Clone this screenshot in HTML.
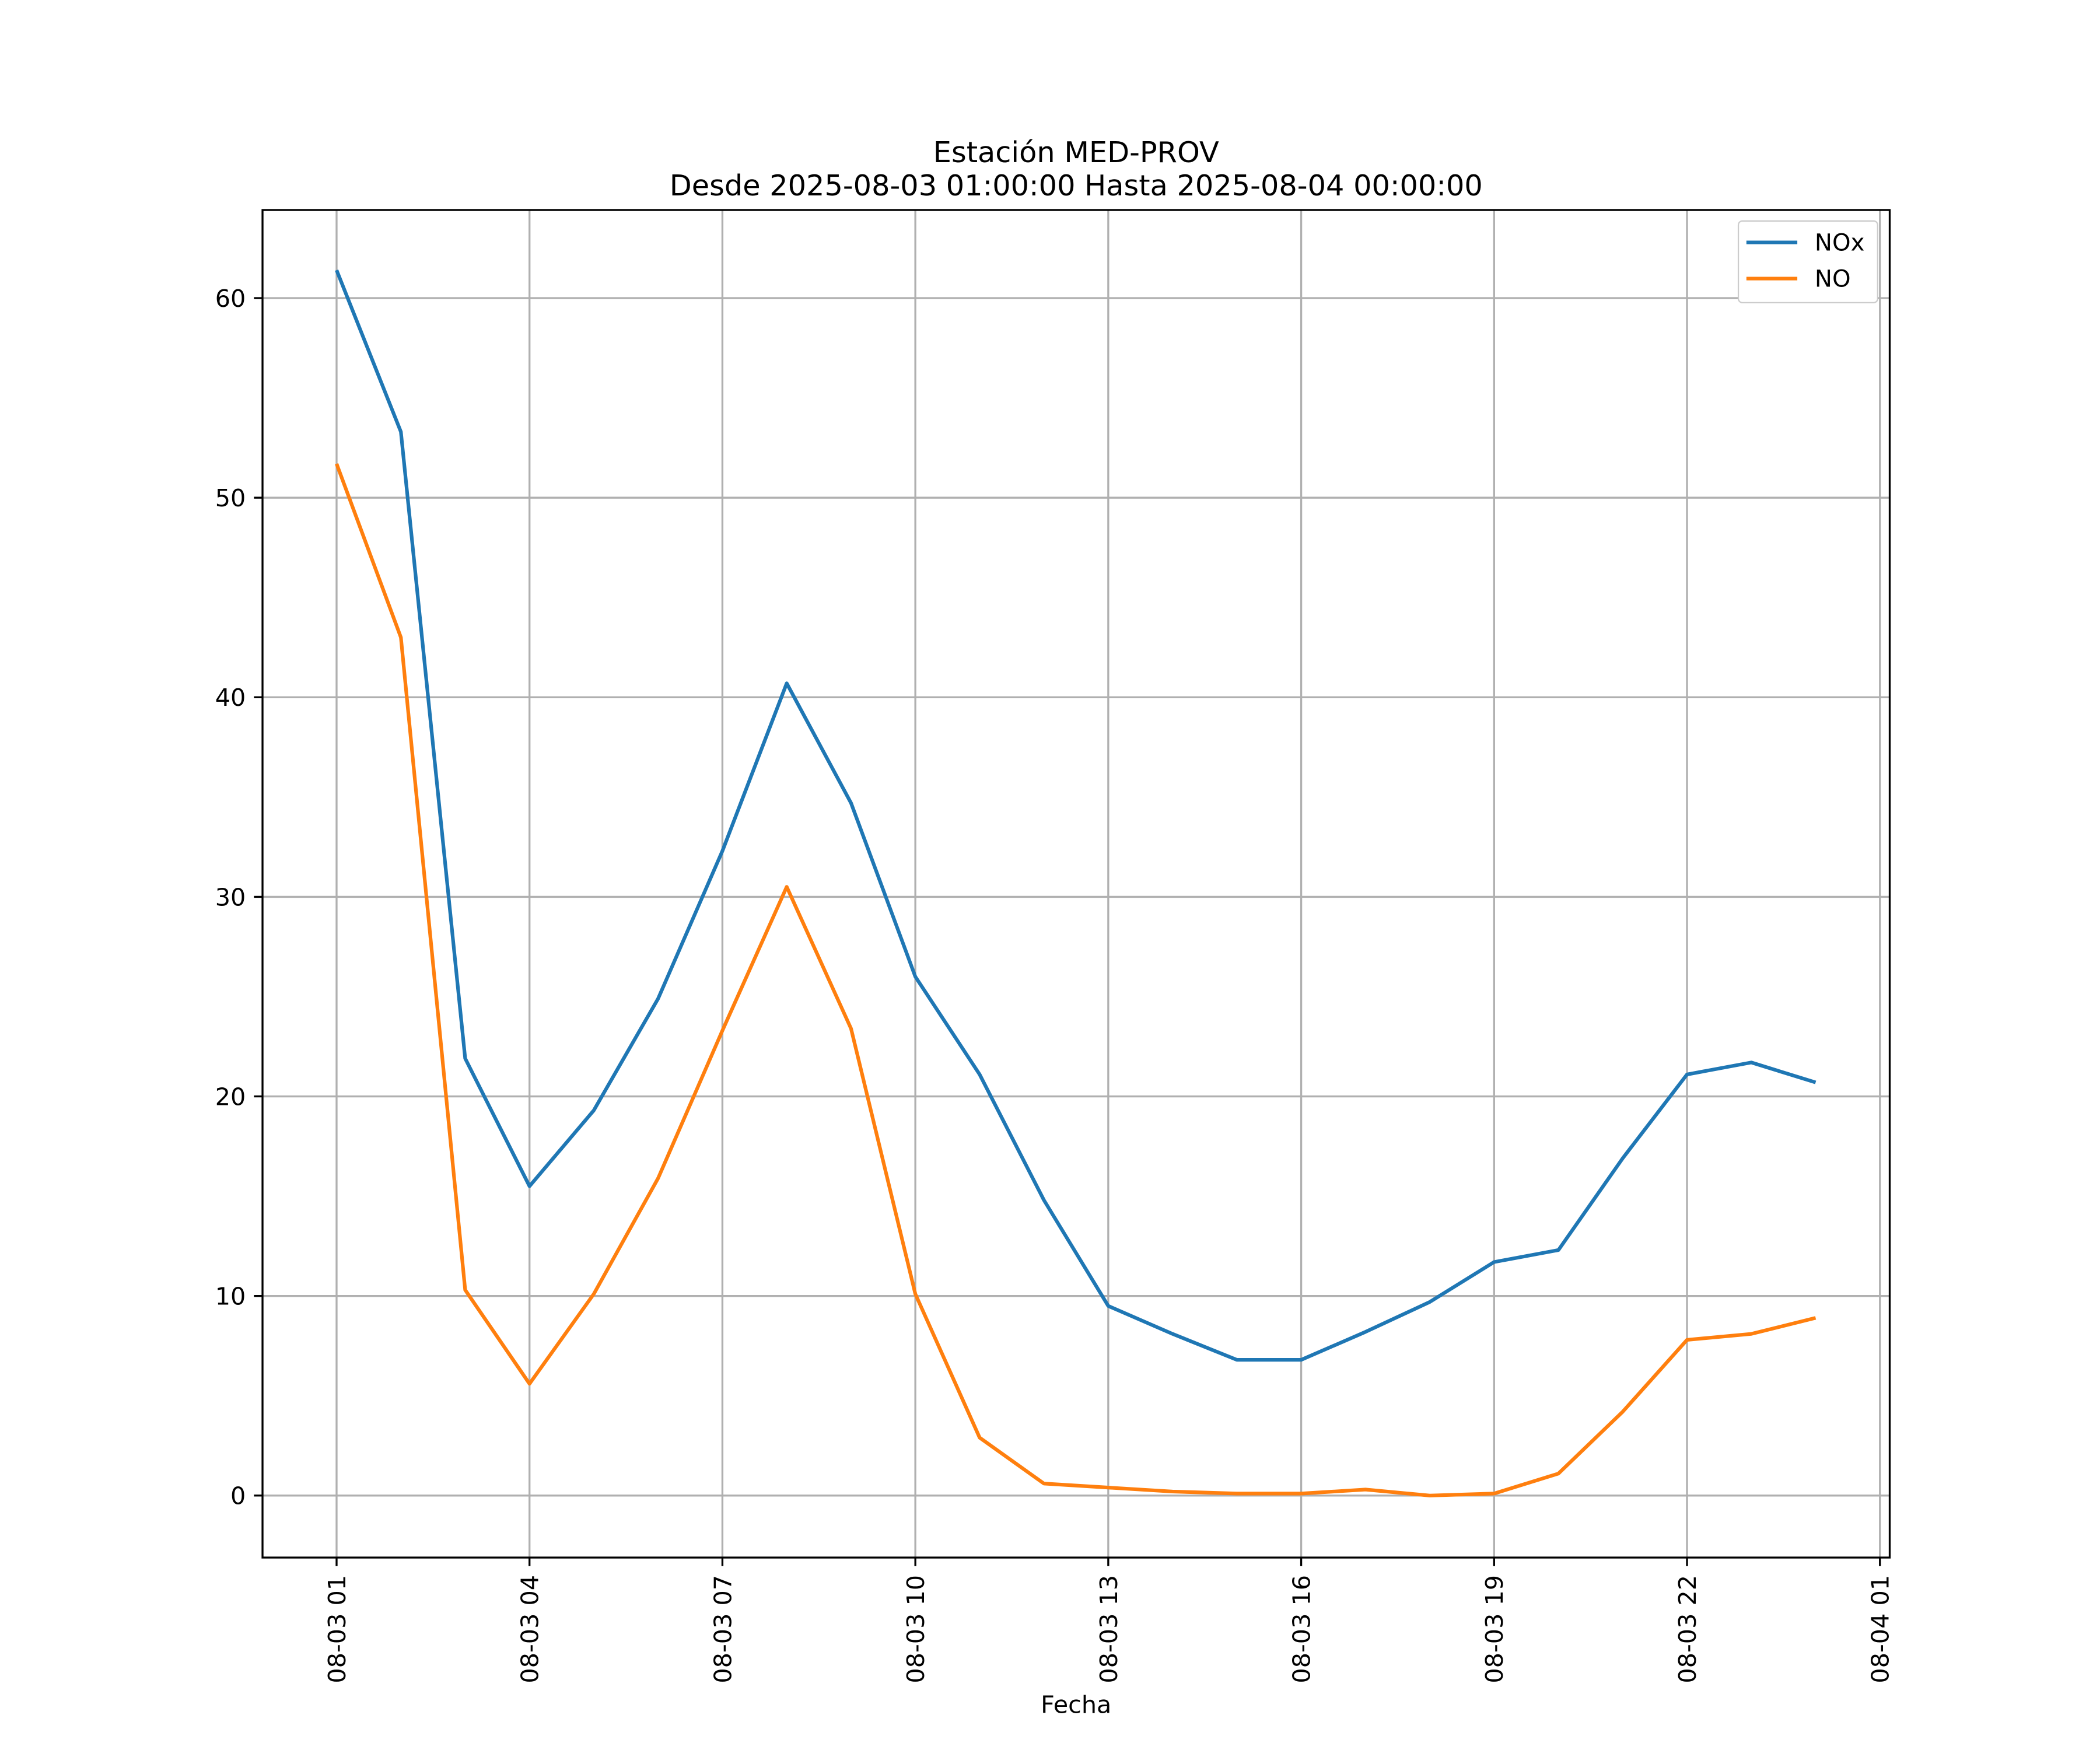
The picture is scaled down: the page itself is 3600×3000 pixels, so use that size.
<!DOCTYPE html>
<html><head><meta charset="utf-8"><style>
html,body{margin:0;padding:0;background:#fff}
svg{display:block;font-family:"DejaVu Sans","Liberation Sans",sans-serif}
</style></head><body>
<svg id="chart" width="3600" height="3000" viewBox="0 0 1568 1306.7" xmlns="http://www.w3.org/2000/svg">
<rect width="1568" height="1306.7" fill="#fff"/>
<g id="grid"></g>
<g id="series"></g>
<rect x="196" y="156.8" width="1215" height="1006.2" fill="none" stroke="#000" stroke-width="1.45"/>
<g id="ticks"></g>
<text x="803.5" y="121" font-size="21.5" text-anchor="middle">Estación MED-PROV</text>
<text x="803.5" y="146" font-size="21.5" text-anchor="middle">Desde 2025-08-03 01:00:00 Hasta 2025-08-04 00:00:00</text>
<text x="803.5" y="1279" font-size="18" text-anchor="middle">Fecha</text>
<g>
<rect x="1298" y="165" width="104" height="61" rx="3" fill="#fff" stroke="#ccc"/>
<line x1="1304" y1="181" x2="1342" y2="181" stroke="#1f77b4" stroke-width="2.7"/>
<text x="1355" y="187" font-size="17.5">NOx</text>
<line x1="1304" y1="208" x2="1342" y2="208" stroke="#ff7f0e" stroke-width="2.7"/>
<text x="1355" y="214" font-size="17.5">NO</text>
</g>
</svg>
<script>
const hours=[1,2,3,4,5,6,7,8,9,10,11,12,13,14,15,16,17,18,19,20,21,22,23,24];
const noxValues=[61.4,53.3,21.9,15.5,19.3,24.9,32.3,40.7,34.7,26.0,21.1,14.8,9.5,8.1,6.8,6.8,8.2,9.7,11.7,12.3,16.9,21.1,21.7,20.7];
const noValues=[51.7,43.0,10.3,5.6,10.1,15.9,23.3,30.5,23.4,10.1,2.9,0.6,0.4,0.2,0.1,0.1,0.3,0.0,0.1,1.1,4.2,7.8,8.1,8.9];
const xTickHours=[1,4,7,10,13,16,19,22,25];
const xTickLabels=["08-03 01","08-03 04","08-03 07","08-03 10","08-03 13","08-03 16","08-03 19","08-03 22","08-04 01"];
const yTicks=[0,10,20,30,40,50,60];
const NS="http://www.w3.org/2000/svg";
function x(h){return 251.3+(h-1)*(1403.7-251.3)/24;}
function y(v){return 1116.7-v*(1116.7-222.6)/60;}
function mk(tag,attrs,parent){const e=document.createElementNS(NS,tag);for(const k in attrs)e.setAttribute(k,attrs[k]);parent.appendChild(e);return e;}
const grid=document.getElementById('grid'),ticks=document.getElementById('ticks'),series=document.getElementById('series');
xTickHours.forEach((h,i)=>{
  const gl=mk('line',{x1:x(h),x2:x(h),y1:157,y2:1163,stroke:'#b0b0b0','stroke-width':1.45},grid);
  
  
  const t=mk('line',{x1:x(h),x2:x(h),y1:1163,y2:1169.4,stroke:'#000','stroke-width':1.45},ticks);
  
  
  const tx=mk('text',{x:0,y:0,'font-size':18,'text-anchor':'end',transform:`translate(${x(h)+6.5},1176) rotate(-90)`},ticks);
  tx.textContent=xTickLabels[i];
  
  
});
yTicks.forEach(v=>{
  const gl=mk('line',{x1:196,x2:1411,y1:y(v),y2:y(v),stroke:'#b0b0b0','stroke-width':1.45},grid);
  
  
  const t=mk('line',{x1:189.6,x2:196,y1:y(v),y2:y(v),stroke:'#000','stroke-width':1.45},ticks);
  
  
  const tx=mk('text',{x:183.5,y:y(v)+6.5,'font-size':18,'text-anchor':'end'},ticks);
  tx.textContent=v;
  
  
});
function line(vals,color,name){
  const p=mk('polyline',{points:vals.map((v,i)=>x(hours[i])+','+y(v)).join(' '),fill:'none',stroke:color,'stroke-width':2.7,'stroke-linejoin':'round'},series);
  
  
}
line(noxValues,'#1f77b4','nox-line');
line(noValues,'#ff7f0e','no-line');
</script>
</body></html>
